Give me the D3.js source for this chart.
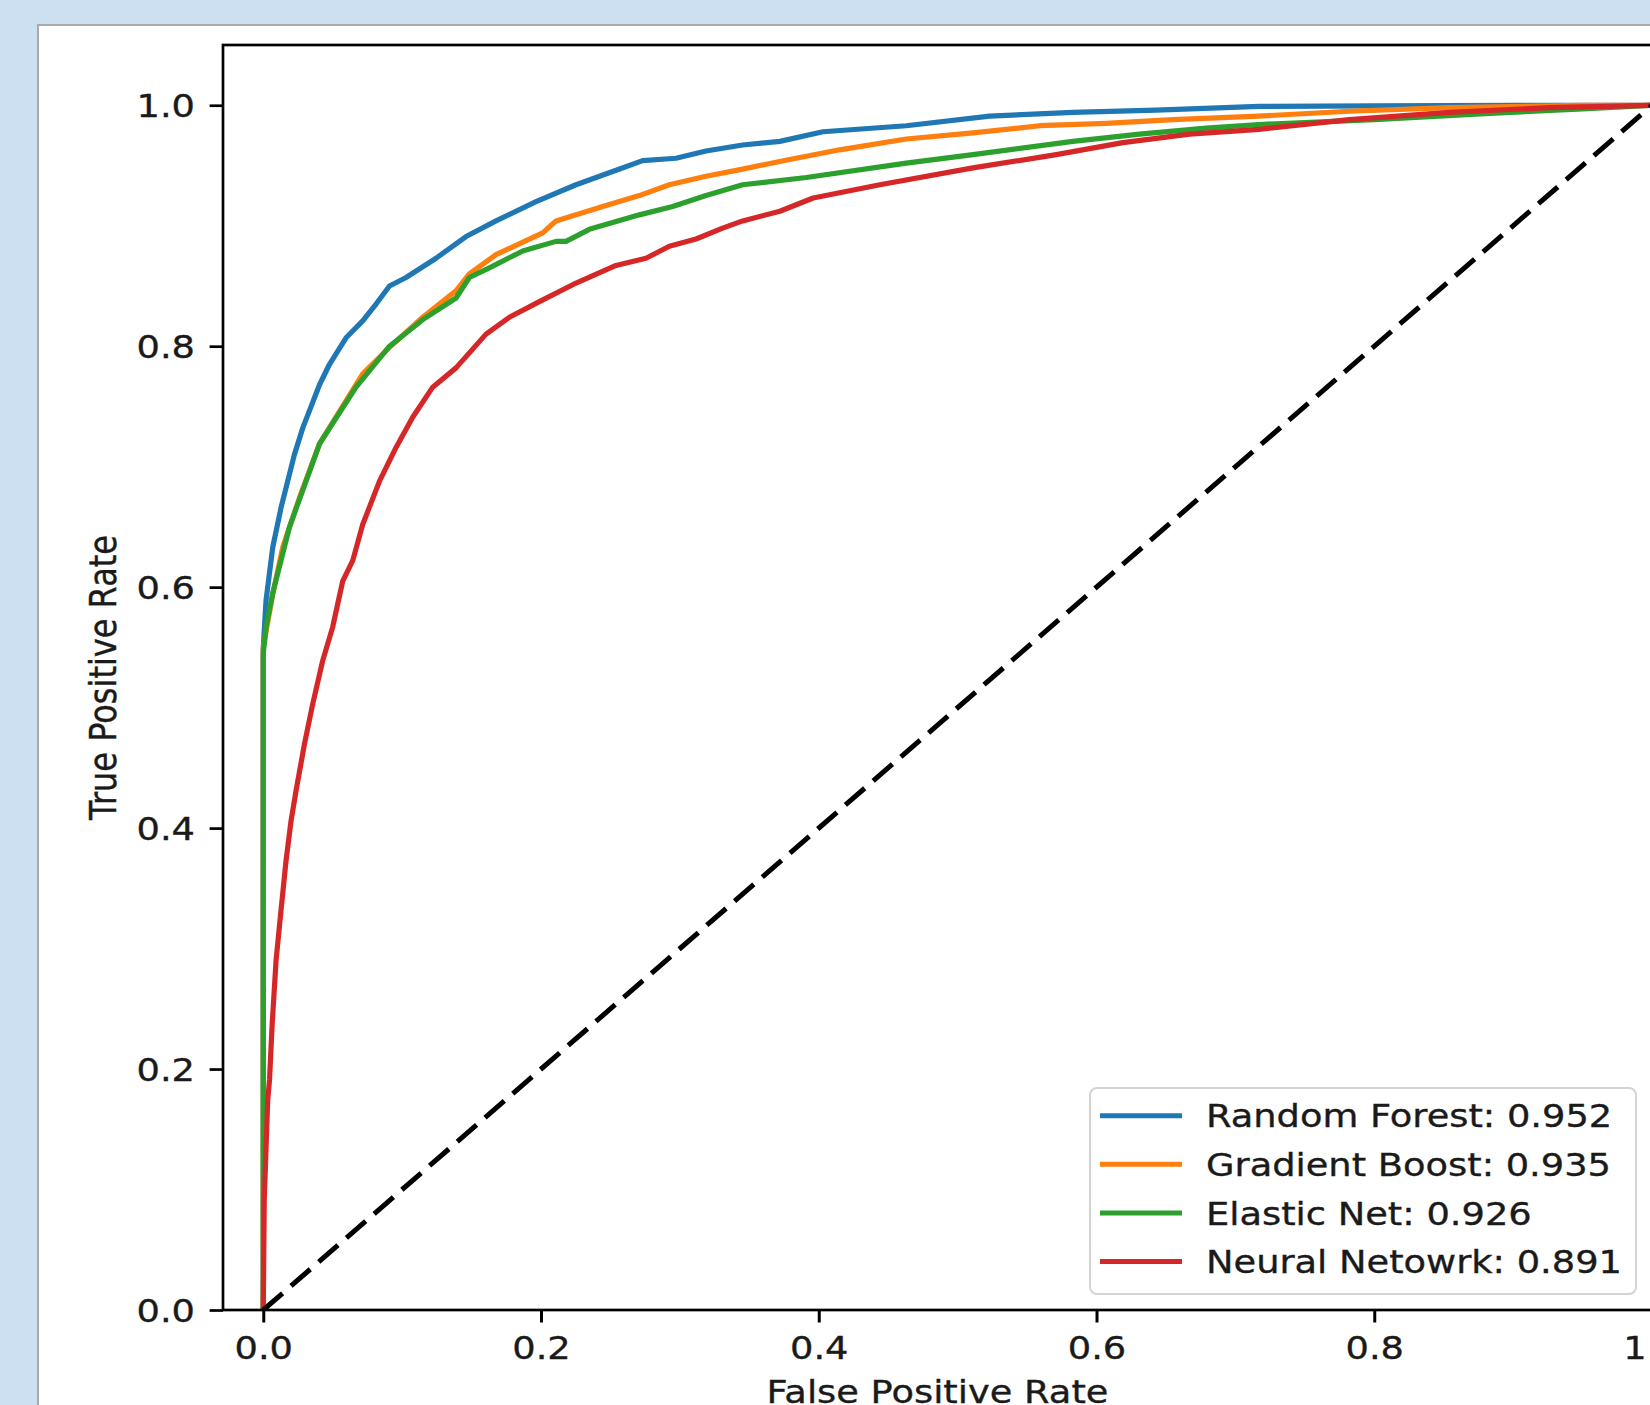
<!DOCTYPE html>
<html>
<head>
<meta charset="utf-8">
<script src="https://cdn.jsdelivr.net/npm/d3@7"></script>
<style>
  html, body { margin: 0; padding: 0; background: #cde0f1; }
  svg { display: block; }
  text { font-family: "DejaVu Sans", sans-serif; fill: #1a1a1a; stroke: #1a1a1a; stroke-width: 0.35px; }
</style>
</head>
<body>
<svg width="1650" height="1405"></svg>
<script>
const models = ["Random Forest", "Gradient Boost", "Elastic Net", "Neural Netowrk"];
const aucs = [0.952, 0.935, 0.926, 0.891];

const rfFpr = [0, 0, 0.002, 0.0068, 0.0128, 0.0224, 0.0284, 0.0405, 0.0477, 0.0596, 0.0716, 0.0812, 0.0909, 0.1028, 0.1244, 0.146, 0.1676, 0.1964, 0.2252, 0.2516, 0.2732, 0.2972, 0.3188, 0.3452, 0.372, 0.403, 0.463, 0.523, 0.583, 0.643, 0.717, 0.8, 0.9, 1.0];
const rfTpr = [0, 0.55, 0.589, 0.633, 0.666, 0.710, 0.732, 0.768, 0.785, 0.807, 0.821, 0.835, 0.850, 0.857, 0.873, 0.891, 0.904, 0.920, 0.934, 0.945, 0.954, 0.956, 0.962, 0.967, 0.970, 0.978, 0.983, 0.991, 0.994, 0.996, 0.999, 0.9995, 1.0, 1.0];

const gbFpr = [0, 0, 0.0068, 0.014, 0.026, 0.0405, 0.0549, 0.0716, 0.0909, 0.1148, 0.1388, 0.1484, 0.1676, 0.2012, 0.2108, 0.2444, 0.2708, 0.2924, 0.3188, 0.3452, 0.379, 0.415, 0.463, 0.511, 0.559, 0.607, 0.655, 0.717, 0.782, 0.854, 0.95, 1.0];
const gbTpr = [0, 0.55, 0.594, 0.633, 0.674, 0.719, 0.746, 0.777, 0.799, 0.824, 0.846, 0.860, 0.876, 0.894, 0.904, 0.916, 0.925, 0.934, 0.941, 0.947, 0.955, 0.963, 0.972, 0.977, 0.983, 0.985, 0.988, 0.991, 0.995, 0.998, 1.0, 1.0];

const enFpr = [0, 0, 0.002, 0.0068, 0.0189, 0.0405, 0.0668, 0.0909, 0.1148, 0.1388, 0.1484, 0.1628, 0.1868, 0.2108, 0.218, 0.2348, 0.2708, 0.2948, 0.3188, 0.3452, 0.391, 0.463, 0.511, 0.583, 0.631, 0.679, 0.717, 0.8, 0.88, 0.95, 1.0];
const enTpr = [0, 0.545, 0.567, 0.595, 0.650, 0.719, 0.766, 0.800, 0.822, 0.840, 0.857, 0.865, 0.879, 0.887, 0.887, 0.897, 0.909, 0.916, 0.925, 0.934, 0.940, 0.952, 0.959, 0.970, 0.976, 0.981, 0.984, 0.988, 0.993, 0.997, 1.0];

const nnFpr = [0, 0.0007, 0.0032, 0.0045, 0.0063, 0.0092, 0.0128, 0.0164, 0.020, 0.0236, 0.0297, 0.0356, 0.0428, 0.050, 0.0572, 0.0644, 0.0716, 0.0837, 0.0956, 0.1076, 0.122, 0.1388, 0.1604, 0.1772, 0.1988, 0.2228, 0.254, 0.2756, 0.2924, 0.3116, 0.3308, 0.3452, 0.372, 0.396, 0.444, 0.511, 0.571, 0.619, 0.667, 0.717, 0.782, 0.854, 0.926, 1.0];
const nnTpr = [0, 0.091, 0.174, 0.191, 0.235, 0.290, 0.332, 0.373, 0.406, 0.431, 0.470, 0.503, 0.539, 0.567, 0.605, 0.622, 0.652, 0.688, 0.716, 0.741, 0.766, 0.782, 0.810, 0.824, 0.837, 0.851, 0.867, 0.873, 0.883, 0.889, 0.898, 0.904, 0.912, 0.923, 0.934, 0.948, 0.959, 0.969, 0.976, 0.980, 0.988, 0.994, 0.998, 1.0];

const xTicks = [0, 0.2, 0.4, 0.6, 0.8, 1.0];
const yTicks = [0, 0.2, 0.4, 0.6, 0.8, 1.0];

const series = [
  { fpr: rfFpr, tpr: rfTpr },
  { fpr: gbFpr, tpr: gbTpr },
  { fpr: enFpr, tpr: enTpr },
  { fpr: nnFpr, tpr: nnTpr }
];

const svg = d3.select("svg");

// the source image is stretched sideways, so text is too
const stretch = 1.15;
const fontSize = 32;

const color = d3.scaleOrdinal()
  .domain(models)
  .range(["#1f77b4", "#ff7f0e", "#2ca02c", "#d62728"]);

// white figure panel
svg.append("rect")
  .attr("x", 38)
  .attr("y", 25)
  .attr("width", 1700)
  .attr("height", 1500)
  .attr("fill", "#fff")
  .attr("stroke", "#aaaaaa")
  .attr("stroke-width", 2);

const plotLeft = 223, plotRight = 1652, plotTop = 45, plotBottom = 1310;

const x = d3.scaleLinear().domain([-0.029, 1.0]).range([plotLeft, plotRight]);
const y = d3.scaleLinear().domain([0, 1.05]).range([plotBottom, plotTop]);

svg.append("clipPath")
  .attr("id", "plot-clip")
  .append("rect")
  .attr("x", plotLeft)
  .attr("y", plotTop)
  .attr("width", plotRight - plotLeft)
  .attr("height", plotBottom - plotTop);

const plotG = svg.append("g").attr("clip-path", "url(#plot-clip)");

const line = d3.line()
  .x(d => x(d[0]))
  .y(d => y(d[1]));

series.forEach((s, i) => {
  const pts = s.fpr.map((f, j) => [f, s.tpr[j]]);
  plotG.append("path")
    .attr("d", line(pts))
    .attr("fill", "none")
    .attr("stroke", color(models[i]))
    .attr("stroke-width", 5.2)
    .attr("stroke-linejoin", "round");
});

plotG.append("path")
  .attr("d", line([[0, 0], [1, 1]]))
  .attr("fill", "none")
  .attr("stroke", "#000")
  .attr("stroke-width", 5)
  .attr("stroke-dasharray", "25.5 11.2");

// axes
const xAxisG = svg.append("g")
  .attr("transform", `translate(0, ${plotBottom})`)
  .call(d3.axisBottom(x).tickValues(xTicks).tickSize(12.5).tickFormat(d3.format(".1f")));

xAxisG.select(".domain").remove();
xAxisG.selectAll(".tick line").attr("stroke", "#000").attr("stroke-width", 3);
xAxisG.selectAll(".tick text")
  .attr("y", 49.5)
  .attr("dy", null)
  .attr("font-size", fontSize)
  .attr("font-family", "DejaVu Sans")
  .attr("fill", "#1a1a1a")
  .attr("transform", `scale(${stretch}, 1)`);

const yAxisG = svg.append("g")
  .attr("transform", `translate(${plotLeft}, 0)`)
  .call(d3.axisLeft(y).tickValues(yTicks).tickSize(13.4).tickFormat(d3.format(".1f")));

yAxisG.select(".domain").remove();
yAxisG.selectAll(".tick line").attr("stroke", "#000").attr("stroke-width", 2.7);
yAxisG.selectAll(".tick text")
  .attr("x", -28 / stretch)
  .attr("y", 11.6)
  .attr("dy", null)
  .attr("font-size", fontSize)
  .attr("font-family", "DejaVu Sans")
  .attr("fill", "#1a1a1a")
  .attr("transform", `scale(${stretch}, 1)`);

// spines
svg.append("rect")
  .attr("x", plotLeft)
  .attr("y", plotTop)
  .attr("width", plotRight - plotLeft)
  .attr("height", plotBottom - plotTop)
  .attr("fill", "none")
  .attr("stroke", "#000")
  .attr("stroke-width", 2.7);

// axis labels
svg.append("text")
  .attr("transform", `translate(937.5, 1402.5) scale(${stretch}, 1)`)
  .attr("text-anchor", "middle")
  .attr("font-size", fontSize)
  .text("False Positive Rate");

svg.append("text")
  .attr("transform", `translate(116, ${(plotTop + plotBottom) / 2}) scale(${stretch}, 1) rotate(-90)`)
  .attr("text-anchor", "middle")
  .attr("font-size", fontSize)
  .text("True Positive Rate");

// legend
const legendG = svg.append("g");

legendG.append("rect")
  .attr("x", 1090)
  .attr("y", 1088)
  .attr("width", 546)
  .attr("height", 206)
  .attr("rx", 7)
  .attr("fill", "#fff")
  .attr("fill-opacity", 0.8)
  .attr("stroke", "#d4d4d4")
  .attr("stroke-width", 2);

const legendItems = legendG.selectAll("g.item")
  .data(models)
  .join("g")
  .attr("class", "item")
  .attr("transform", (d, i) => `translate(0, ${1115.7 + i * 48.6})`);

legendItems.append("line")
  .attr("x1", 1100)
  .attr("x2", 1182)
  .attr("stroke", d => color(d))
  .attr("stroke-width", 5);

legendItems.append("text")
  .attr("transform", `translate(1206, 11.6) scale(${stretch}, 1)`)
  .attr("font-size", fontSize)
  .text((d, i) => `${d}: ${aucs[i].toFixed(3)}`);
</script>
</body>
</html>
